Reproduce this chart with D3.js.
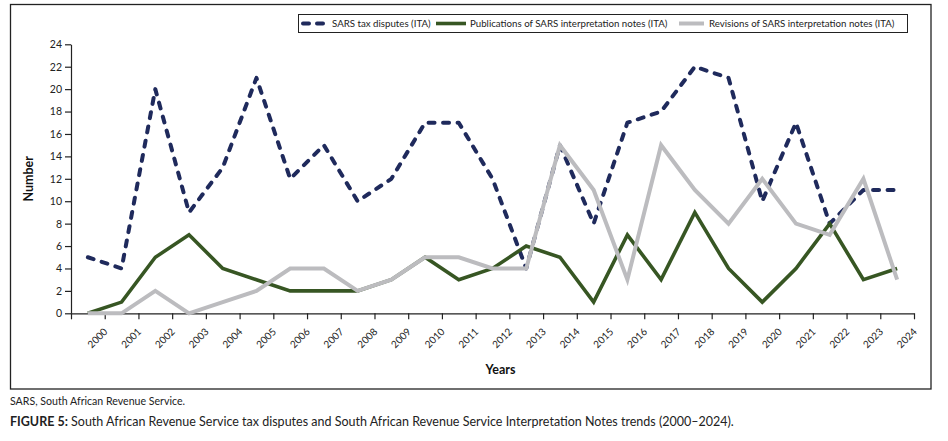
<!DOCTYPE html>
<html>
<head>
<meta charset="utf-8">
<script src="https://cdn.jsdelivr.net/npm/d3@7"></script>
<style>
  html, body { margin: 0; padding: 0; background: #fff; }
  svg { display: block; font-family: Lato, "Noto Sans", sans-serif; }
</style>
</head>
<body>
<div id="chart"></div>
<script>
// ── Data ───────────────────────────────────────────────────────────────────
const years = d3.range(2000, 2025).map(String);

const taxDisputes  = [5, 4, 20, 9, 13, 21, 12, 15, 10, 12, 17, 17, 12, 4, 15, 8, 17, 18, 22, 21, 10, 17, 8, 11, 11];
const publications = [0, 1, 5, 7, 4, 3, 2, 2, 2, 3, 5, 3, 4, 6, 5, 1, 7, 3, 9, 4, 1, 4, 8, 3, 4];
const revisions    = [0, 0, 2, 0, 1, 2, 4, 4, 2, 3, 5, 5, 4, 4, 15, 11, 3, 15, 11, 8, 12, 8, 7, 12, 3];

const seriesNames = [
  "SARS tax disputes (ITA)",
  "Publications of SARS interpretation notes (ITA)",
  "Revisions of SARS interpretation notes (ITA)"
];
const yTicks = d3.range(0, 25, 2);

// ── Layout ────────────────────────────────────────────────────────────────
const W = 948, H = 441;
const plot = { left: 71, right: 914, top: 44.3, bottom: 313.3 };

const svg = d3.select("#chart").append("svg")
  .attr("width", W)
  .attr("height", H);

svg.append("rect").attr("width", W).attr("height", H).attr("fill", "#fff");

// outer chart frame
svg.append("rect")
  .attr("x", 10.5).attr("y", 4.5)
  .attr("width", 920.5).attr("height", 384.5)
  .attr("fill", "none")
  .attr("stroke", "#222")
  .attr("stroke-width", 1.3);

// Scales
const x = d3.scaleBand().domain(years).range([plot.left, plot.right]).padding(0);
const xEdge = d3.scaleLinear().domain([0, years.length]).range([plot.left, plot.right]);
const y = d3.scaleLinear().domain([0, 24]).range([plot.bottom, plot.top]);

// ── Axes ──────────────────────────────────────────────────────────────────
const yAxis = svg.append("g")
  .attr("transform", `translate(${plot.left},0)`)
  .call(d3.axisLeft(y).tickValues(yTicks).tickSize(6).tickSizeOuter(0).tickPadding(3));
yAxis.select(".domain").attr("stroke", "#222").attr("stroke-width", 1.2);
yAxis.selectAll(".tick line").attr("stroke", "#222").attr("stroke-width", 1.2);
yAxis.selectAll("text")
  .style("font-size", "10.5px")
  .style("fill", "#222")
  .style("font-family", "Lato, sans-serif");

// category boundaries carry the tick marks, labels sit at the right edge of each band
const xAxis = svg.append("g")
  .attr("transform", `translate(0,${plot.bottom})`)
  .call(d3.axisBottom(xEdge)
    .tickValues(d3.range(0, years.length + 1))
    .tickSize(6).tickSizeOuter(0)
    .tickFormat(i => i > 0 ? years[i - 1] : ""));
xAxis.select(".domain").attr("stroke", "#222").attr("stroke-width", 1.2);
xAxis.selectAll(".tick line").attr("stroke", "#222").attr("stroke-width", 1.2);
xAxis.selectAll("text")
  .attr("x", 0).attr("y", 0).attr("dy", 0)
  .attr("transform", "translate(3,19) rotate(-45)")
  .style("text-anchor", "end")
  .style("font-size", "10px")
  .style("fill", "#222")
  .style("font-family", "Lato, sans-serif");

// Axis titles
svg.append("text")
  .attr("transform", `translate(33,${(plot.top + plot.bottom) / 2}) rotate(-90)`)
  .style("text-anchor", "middle")
  .style("font-size", "12.5px")
  .style("font-weight", "700")
  .style("fill", "#111")
  .text("Number");

svg.append("text")
  .attr("x", (plot.left + plot.right) / 2 + 8)
  .attr("y", 374)
  .style("text-anchor", "middle")
  .style("font-size", "12.5px")
  .style("font-weight", "700")
  .style("fill", "#111")
  .text("Years");

// ── Lines ─────────────────────────────────────────────────────────────────
const styles = [
  { color: "#1f2a5c", width: 4,   dash: "6,8.5", cap: "round", join: "round" },
  { color: "#375623", width: 3.6, dash: null,    cap: "butt",  join: "miter" },
  { color: "#bcbcbf", width: 4,   dash: null,    cap: "butt",  join: "miter" }
];
const allSeries = [taxDisputes, publications, revisions];

const line = d3.line()
  .x((d, i) => x(years[i]) + x.bandwidth() / 2)
  .y(d => y(d));

allSeries.forEach((vals, k) => {
  svg.append("path")
    .datum(vals)
    .attr("d", line)
    .attr("fill", "none")
    .attr("stroke", styles[k].color)
    .attr("stroke-width", styles[k].width)
    .attr("stroke-dasharray", styles[k].dash)
    .attr("stroke-linecap", styles[k].cap)
    .attr("stroke-linejoin", styles[k].join);
});

// ── Legend ────────────────────────────────────────────────────────────────
const legend = svg.append("g");
legend.append("rect")
  .attr("x", 298.5).attr("y", 14.5)
  .attr("width", 609).attr("height", 18)
  .attr("fill", "#fff")
  .attr("stroke", "#222")
  .attr("stroke-width", 1);

const legendItems = [
  { x0: 303, x1: 327, tx: 332 },
  { x0: 436, x1: 466, tx: 470 },
  { x0: 679, x1: 704, tx: 709 }
];
legendItems.forEach((it, k) => {
  legend.append("line")
    .attr("x1", it.x0).attr("x2", it.x1)
    .attr("y1", 23.5).attr("y2", 23.5)
    .attr("stroke", styles[k].color)
    .attr("stroke-width", styles[k].width)
    .attr("stroke-dasharray", k === 0 ? "6,8" : null)
    .attr("stroke-linecap", styles[k].cap);
  legend.append("text")
    .attr("x", it.tx).attr("y", 27.2)
    .style("font-size", "9.7px")
    .style("fill", "#222")
    .text(seriesNames[k]);
});

// ── Captions ──────────────────────────────────────────────────────────────
svg.append("text")
  .attr("x", 10).attr("y", 405)
  .style("font-size", "10.6px")
  .style("fill", "#222")
  .text("SARS, South African Revenue Service.");

const cap = svg.append("text")
  .attr("x", 10).attr("y", 426)
  .style("font-size", "12.5px")
  .style("fill", "#222");
cap.append("tspan").style("font-weight", "700").text("FIGURE 5:");
cap.append("tspan").text(" South African Revenue Service tax disputes and South African Revenue Service Interpretation Notes trends (2000\u20132024).");
</script>
</body>
</html>
